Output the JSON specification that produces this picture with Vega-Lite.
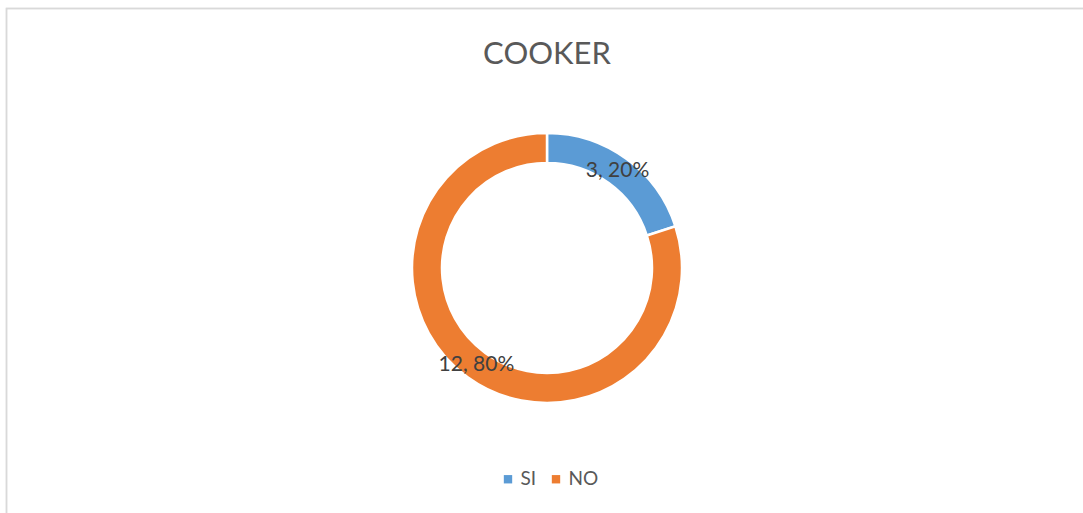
{
  "$schema": "https://vega.github.io/schema/vega-lite/v6.json",
  "autosize": "none",
  "width": 1081,
  "height": 519,
  "padding": {"left": 6.5, "top": 8.5, "right": -4.5, "bottom": -14.5},
  "background": "white",
  "config": {
    "view": {"stroke": null},
    "font": "Lato"
  },
  "title": {
    "text": "COOKER",
    "font": "Lato",
    "fontSize": 31,
    "fontWeight": "normal",
    "color": "#595959",
    "anchor": "middle",
    "baseline": "alphabetic",
    "offset": 0,
    "dy": 87
  },
  "data": {
    "values": [
      {"categoria": "SI", "valor": 3, "orden": 1, "etiqueta": "3, 20%"},
      {"categoria": "NO", "valor": 12, "orden": 2, "etiqueta": "12, 80%"}
    ]
  },
  "layer": [
    {
      "mark": {"type": "rect", "fill": null, "fillOpacity": 0, "stroke": "#d9d9d9", "strokeWidth": 1.5},
      "encoding": {}
    },
    {
      "mark": {"type": "arc", "outerRadius": 135, "innerRadius": 105, "stroke": "white", "strokeWidth": 2.5},
      "encoding": {
        "theta": {"field": "valor", "type": "quantitative", "stack": true},
        "order": {"field": "orden", "type": "quantitative"},
        "color": {
          "field": "categoria",
          "type": "nominal",
          "scale": {"domain": ["SI", "NO"], "range": ["#5B9BD5", "#ED7D31"]},
          "legend": {
            "title": null,
            "orient": "none",
            "direction": "horizontal",
            "legendX": 492,
            "legendY": 461,
            "padding": 0,
            "symbolType": "square",
            "symbolSize": 70,
            "symbolStrokeWidth": 0,
            "labelFont": "Lato",
            "labelFontSize": 19,
            "labelColor": "#595959",
            "labelOffset": 3,
            "columnPadding": 10
          }
        }
      }
    },
    {
      "mark": {"type": "text", "radius": 120, "font": "Lato", "fontSize": 21, "color": "#404040"},
      "encoding": {
        "theta": {"field": "valor", "type": "quantitative", "stack": true},
        "order": {"field": "orden", "type": "quantitative"},
        "text": {"field": "etiqueta", "type": "nominal"}
      }
    }
  ]
}
